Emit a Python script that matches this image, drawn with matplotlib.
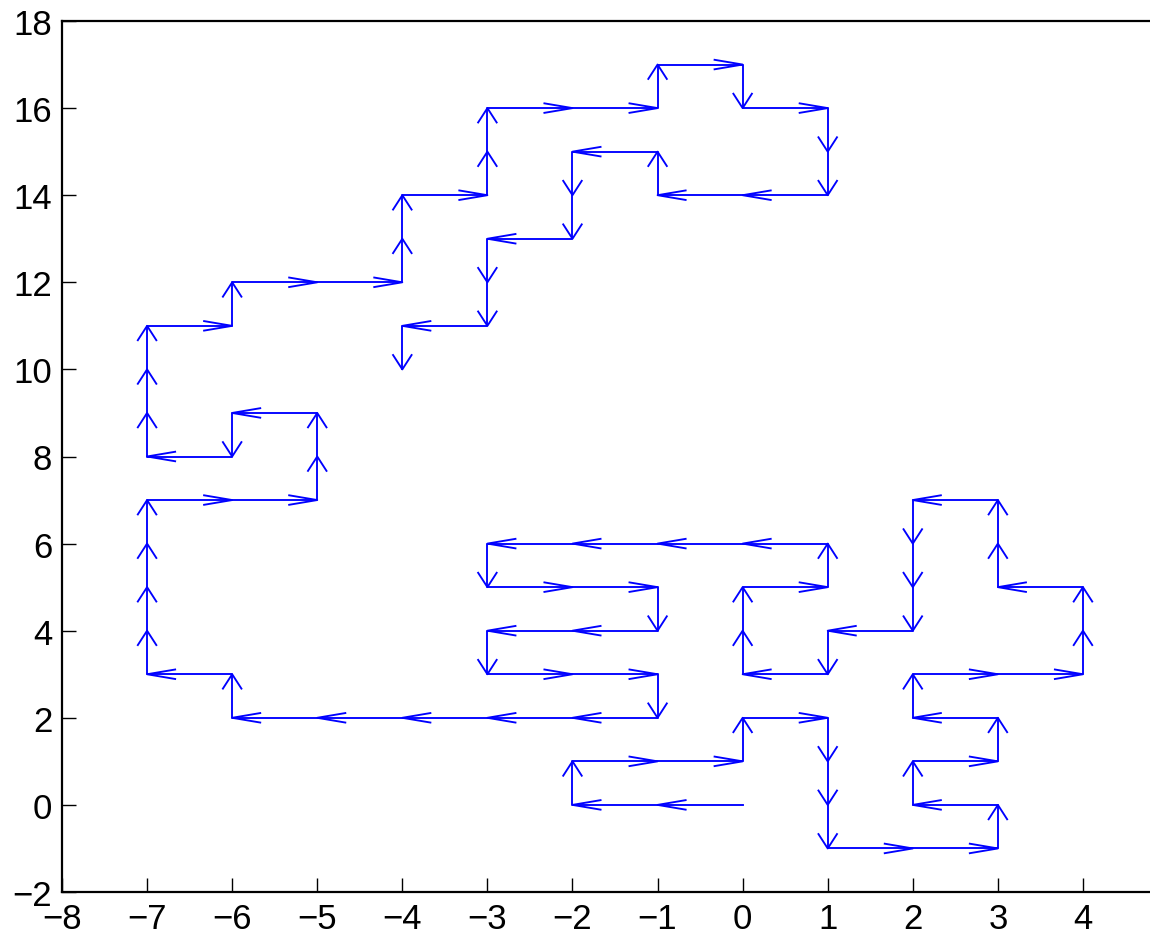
import matplotlib
matplotlib.use("Agg")
import matplotlib.pyplot as plt

# lattice walk, visited points in order
walk_x = [0, -1, -2, -2, -1, 0, 0, 1, 1, 1, 1, 2, 3, 3, 2, 2, 3, 3, 2, 2,
          3, 4, 4, 4, 3, 3, 3, 2, 2, 2, 2, 1, 1, 0, 0, 0, 1, 1, 0, -1,
          -2, -3, -3, -2, -1, -1, -2, -3, -3, -2, -1, -1, -2, -3, -4, -5, -6, -6, -7, -7,
          -7, -7, -7, -6, -5, -5, -5, -6, -6, -7, -7, -7, -7, -6, -6, -5, -4, -4, -4, -3,
          -3, -3, -2, -1, -1, 0, 0, 1, 1, 1, 0, -1, -1, -2, -2, -2, -3, -3, -3, -4,
          -4]
walk_y = [0, 0, 0, 1, 1, 1, 2, 2, 1, 0, -1, -1, -1, 0, 0, 1, 1, 2, 2, 3,
          3, 3, 4, 5, 5, 6, 7, 7, 6, 5, 4, 4, 3, 3, 4, 5, 5, 6, 6, 6,
          6, 6, 5, 5, 5, 4, 4, 4, 3, 3, 3, 2, 2, 2, 2, 2, 2, 3, 3, 4,
          5, 6, 7, 7, 7, 8, 9, 9, 8, 8, 9, 10, 11, 11, 12, 12, 12, 13, 14, 14,
          15, 16, 16, 16, 17, 17, 16, 16, 15, 14, 14, 14, 15, 15, 14, 13, 13, 12, 11, 11,
          10]

xticks = list(range(-8, 5))
yticks = list(range(-2, 19, 2))

plt.rcParams['font.family'] = ['Liberation Sans', 'DejaVu Sans']

fig = plt.figure(figsize=(11.5, 9.37), dpi=100)
ax = fig.add_axes([62 / 1150, 44 / 937, 13 * 85.08 / 1150, 871 / 937])

blue = (0, 0, 1)
ax.plot(walk_x, walk_y, color=blue, lw=1.35)

# quiver-style open heads at the end of every step
alpha, beta = 0.33, 0.33
for i in range(1, len(walk_x)):
    u = walk_x[i] - walk_x[i - 1]
    v = walk_y[i] - walk_y[i - 1]
    X, Y = walk_x[i], walk_y[i]
    bx1 = X - alpha * (u + beta * v)
    by1 = Y - alpha * (v - beta * u)
    bx2 = X - alpha * (u - beta * v)
    by2 = Y - alpha * (v + beta * u)
    ax.plot([bx1, X, bx2], [by1, Y, by2], color=blue, lw=1.35)

ax.set_xlim(-8, 5)
ax.set_ylim(-2, 18)
ax.set_xticks(xticks)
ax.set_yticks(yticks)
ax.tick_params(direction='in', length=10, width=1, labelsize=25, pad=7)
for s in ax.spines.values():
    s.set_linewidth(1.6)

fig.savefig("out.png", dpi=100)
